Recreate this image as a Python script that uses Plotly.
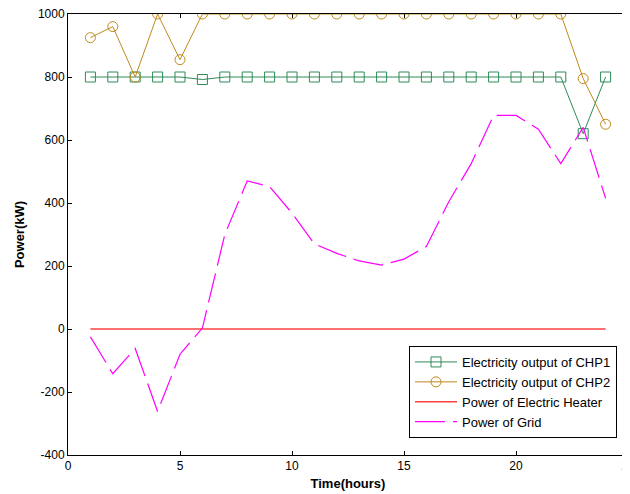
import plotly.graph_objects as go

hours = list(range(1, 25))
chp1 = [800, 800, 800, 800, 800, 792, 800, 800, 800, 800, 800, 800,
        800, 800, 800, 800, 800, 800, 800, 800, 800, 800, 620, 800]
chp2 = [925, 960, 800, 1000, 855, 1000, 1000, 1000, 1000, 1000, 1000, 1000,
        1000, 1000, 1000, 1000, 1000, 1000, 1000, 1000, 1000, 1000, 795, 650]
heater = [0] * 24
grid = [-25, -142, -62, -262, -80, 3, 300, 470, 452, 368, 270, 240,
        216, 203, 222, 262, 404, 525, 678, 678, 634, 525, 640, 415]

x_ticks = [0, 5, 10, 15, 20, 25]
y_ticks = [-400, -200, 0, 200, 400, 600, 800, 1000]
y_tick_text = ["-400", "-200", "0", "200", "400", "600", "800", "1000"]

fig = go.Figure()
fig.add_trace(go.Scatter(
    x=hours, y=chp1, mode="lines+markers", name="Electricity output of CHP1",
    line=dict(color="#2E8B57", width=1),
    marker=dict(symbol="square-open", size=10, color="#2E8B57", line=dict(width=1))))
fig.add_trace(go.Scatter(
    x=hours, y=chp2, mode="lines+markers", name="Electricity output of CHP2",
    line=dict(color="#BF8A1E", width=1),
    marker=dict(symbol="circle-open", size=10, color="#BF8A1E", line=dict(width=1))))
fig.add_trace(go.Scatter(
    x=hours, y=heater, mode="lines", name="Power of Electric Heater",
    line=dict(color="#FF4040", width=1.5)))
fig.add_trace(go.Scatter(
    x=hours, y=grid, mode="lines", name="Power of Grid",
    line=dict(color="#FF00FF", width=1.2, dash="30px,8px")))

font_family = "Liberation Sans, Arial"
axis_common = dict(
    showgrid=False, zeroline=False, showline=True, linecolor="black", linewidth=1,
    mirror="ticks", ticks="inside", ticklen=4, tickcolor="black",
    ticklabeloverflow="allow", automargin=False,
    tickfont=dict(family=font_family, size=12, color="black"),
)

fig.update_layout(
    width=622, height=486,
    margin=dict(l=60, r=2, t=6, b=39, autoexpand=False),
    paper_bgcolor="white", plot_bgcolor="white",
    xaxis=dict(range=[0, 25], tickvals=x_ticks,
               title=dict(text="<b>Time(hours)</b>", standoff=6,
                          font=dict(family=font_family, size=13, color="black")),
               **axis_common),
    yaxis=dict(range=[-400, 1000], tickvals=y_ticks, ticktext=y_tick_text,
               title=dict(text="<b>Power(kW)</b>", standoff=10,
                          font=dict(family=font_family, size=13, color="black")),
               **axis_common),
    legend=dict(x=(617 - 68) / 560, y=(455 - 346) / 441, xanchor="right", yanchor="top",
                bgcolor="white", bordercolor="black", borderwidth=1,
                font=dict(family=font_family, size=13, color="black"),
                tracegroupgap=0, itemwidth=42),
    showlegend=True,
)

fig.write_html("out.html")
